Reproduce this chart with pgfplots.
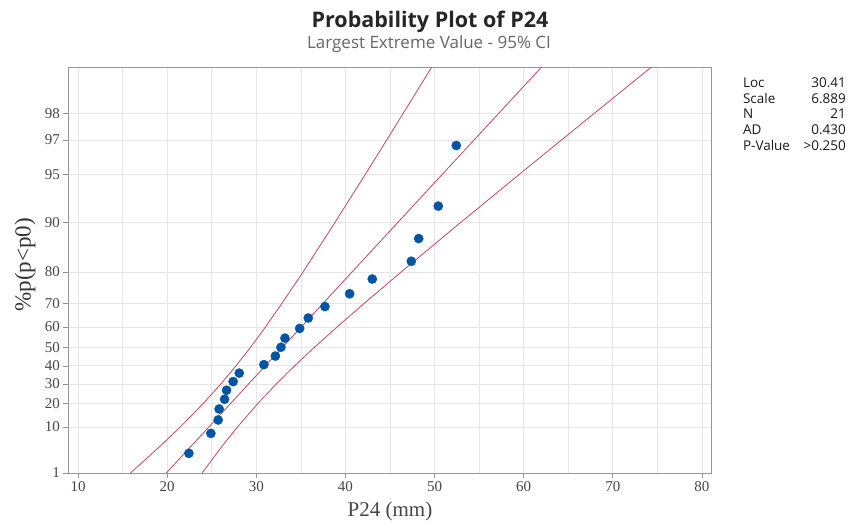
\documentclass[border=0pt]{standalone}
\usepackage{fontspec}
\setmainfont{Liberation Serif}
\newfontfamily\uifont{Open Sans}
\usepackage{pgfplots}
\pgfplotsset{compat=1.18}
\usepackage{pgfplotstable}

\definecolor{cired}{RGB}{192,72,92}
\definecolor{dotblue}{RGB}{0,84,166}
\definecolor{gridgray}{RGB}{230,230,234}
\definecolor{framegray}{RGB}{150,150,150}
\definecolor{labgray}{RGB}{70,70,70}

% observed values, median-rank plotting positions in percent
\pgfplotstableread{
x     p
22.43 3.271
24.90 7.944
25.72 12.617
25.83 17.290
26.44 21.963
26.66 26.636
27.40 31.308
28.08 35.981
30.85 40.654
32.14 45.327
32.76 50.000
33.21 54.673
34.86 59.346
35.83 64.019
37.70 68.692
40.47 73.364
43.01 78.037
47.39 82.710
48.22 87.383
50.42 92.056
52.44 96.729
}\pdata

% fitted line and 95% CI limits read at each percent level
\pgfplotstableread{
p   lo    fit   hi
1   15.86 19.89 23.92
2   17.22 21.01 24.80
5   19.40 22.85 26.30
10  21.45 24.67 27.88
20  24.07 27.13 30.19
30  26.02 29.13 32.24
40  27.72 31.01 34.30
50  29.35 32.94 36.52
60  31.02 35.04 39.06
70  32.89 37.51 42.13
80  35.24 40.74 46.25
90  38.85 45.91 52.98
95  42.23 50.87 59.52
97  44.65 54.46 64.28
98  46.54 57.29 68.04
99  49.75 62.10 74.46
}\pband

\begin{document}
\begin{tikzpicture}
\path[use as bounding box] (0,0) rectangle (852pt,527pt);
\begin{axis}[
    at={(68.3pt,54pt)}, anchor=south west,
    scale only axis,
    width=643.4pt, height=405.7pt,
    xmin=8.9, xmax=81.1,
    ymin=1, ymax=99,
    y coord trafo/.code={\pgfmathparse{-ln(-ln(#1/100))}},
    xtick={10,20,...,80},
    minor xtick={15,25,...,75},
    ytick={1,10,20,30,40,50,60,70,80,90,95,97,98},
    yticklabels={1,10,20,30,40,50,60,70,80,90,95,97,98},
    xtick pos=lower, ytick pos=left,
    tick align=outside,
    major tick length=5pt, minor tick length=0pt,
    tick style={framegray, line width=0.6pt},
    axis line style={framegray, line width=0.8pt},
    grid=both,
    major grid style={gridgray, line width=0.7pt},
    minor grid style={gridgray, line width=0.7pt},
    /pgf/number format/assume math mode=true,
    ticklabel style={font=\fontsize{15}{15}\selectfont, text=labgray},
    xlabel={P24 (mm)},
    xlabel style={at={(axis description cs:0.5,-0.096)}, anchor=center,
        font=\fontsize{21}{21}\selectfont, text=labgray},
    ylabel={\%p(p<p0)},
    ylabel style={at={(axis description cs:-0.067,0.513)}, anchor=center,
        font=\fontsize{23}{23}\selectfont, text=black!80},
]
\addplot[cired, line width=0.8pt] table[x=lo, y=p] {\pband};
\addplot[cired, line width=0.8pt] table[x=fit, y=p] {\pband};
\addplot[cired, line width=0.8pt] table[x=hi, y=p] {\pband};
\addplot[only marks, mark=*, mark size=4.6pt, color=dotblue,
    mark options={draw=dotblue, fill=dotblue}] table[x=x, y=p] {\pdata};
\end{axis}

\node[anchor=base, font=\uifont\bfseries\fontsize{21.5}{21.5}\selectfont, text=black!85]
    at (430pt,499pt) {Probability Plot of P24};
\node[anchor=base, font=\uifont\fontsize{17}{17}\selectfont, text=black!60]
    at (429pt,478.5pt) {Largest Extreme Value - 95\% CI};

\begin{scope}[font=\uifont\fontsize{13.5}{13.5}\selectfont, text=black!90]
\node[anchor=base west] at (739.5pt,439pt) {Loc};
\node[anchor=base east] at (849.3pt,439pt) {30.41};
\node[anchor=base west] at (739.5pt,423.5pt) {Scale};
\node[anchor=base east] at (849.3pt,423.5pt) {6.889};
\node[anchor=base west] at (739.5pt,408pt) {N};
\node[anchor=base east] at (849.3pt,408pt) {21};
\node[anchor=base west] at (739.5pt,392.5pt) {AD};
\node[anchor=base east] at (849.3pt,392.5pt) {0.430};
\node[anchor=base west] at (739.5pt,376.5pt) {P-Value};
\node[anchor=base east] at (849.3pt,376.5pt) {>0.250};
\end{scope}
\end{tikzpicture}
\end{document}
